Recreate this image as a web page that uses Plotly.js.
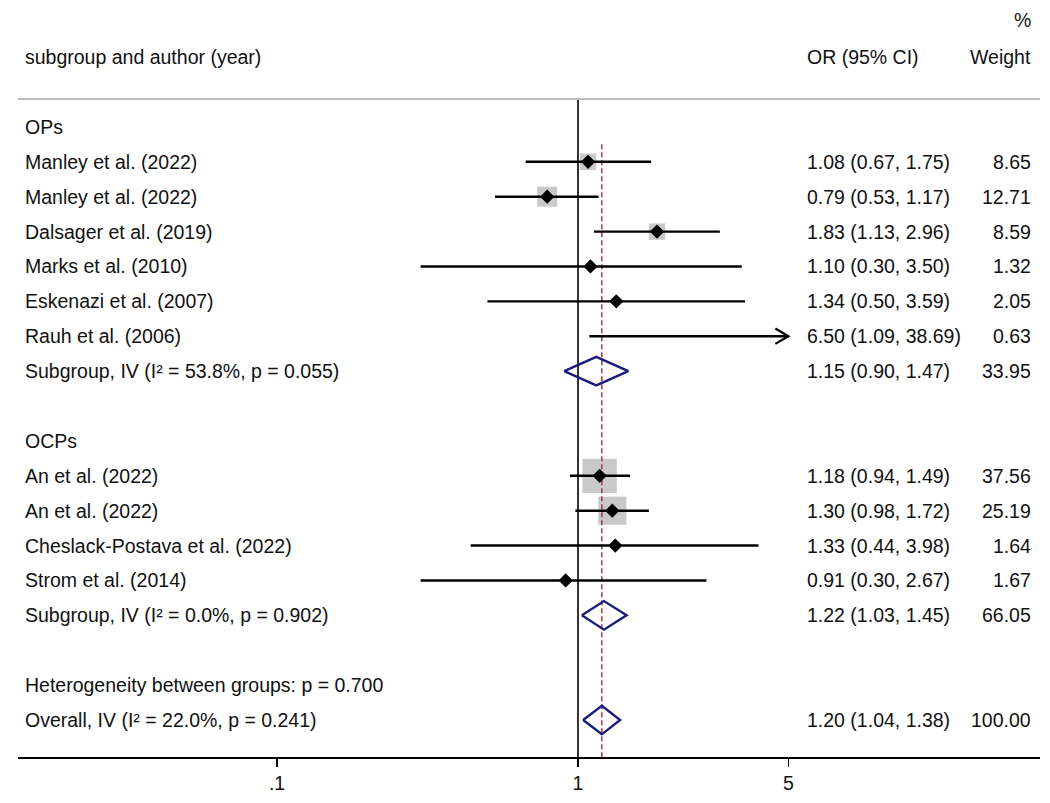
<!DOCTYPE html>
<html>
<head>
<meta charset="utf-8">
<script src="https://cdn.plot.ly/plotly-3.0.1.min.js"></script>
<style>html,body{margin:0;padding:0;background:#fff;}#chart{width:1050px;height:803px;}</style>
</head>
<body>
<div id="chart"></div>
<script>
// ---- data ----
const labels = [
  "OPs",
  "Manley et al. (2022)",
  "Manley et al. (2022)",
  "Dalsager et al. (2019)",
  "Marks et al. (2010)",
  "Eskenazi et al. (2007)",
  "Rauh et al. (2006)",
  "Subgroup, IV (I\u00B2 = 53.8%, p = 0.055)",
  "",
  "OCPs",
  "An et al. (2022)",
  "An et al. (2022)",
  "Cheslack-Postava et al. (2022)",
  "Strom et al. (2014)",
  "Subgroup, IV (I\u00B2 = 0.0%, p = 0.902)",
  "",
  "Heterogeneity between groups: p = 0.700",
  "Overall, IV (I\u00B2 = 22.0%, p = 0.241)"
];
const kind = ["group","study","study","study","study","study","study","sub","blank",
              "group","study","study","study","study","sub","blank","het","overall"];
const est    = [null,1.08,0.79,1.83,1.10,1.34,6.50,1.15,null,null,1.18,1.30,1.33,0.91,1.22,null,null,1.20];
const lower  = [null,0.67,0.53,1.13,0.30,0.50,1.09,0.90,null,null,0.94,0.98,0.44,0.30,1.03,null,null,1.04];
const upper  = [null,1.75,1.17,2.96,3.50,3.59,38.69,1.47,null,null,1.49,1.72,3.98,2.67,1.45,null,null,1.38];
const weight = [null,8.65,12.71,8.59,1.32,2.05,0.63,33.95,null,null,37.56,25.19,1.64,1.67,66.05,null,null,100.00];
const tickVals = [0.1, 1, 5];
const tickText = [".1", "1", "5"];
const headers = {label: "subgroup and author (year)", or: "OR (95% CI)", pct: "%", weight: "Weight"};

// ---- geometry (styling) ----
const W = 1050, H = 803;
const mL = 18, mR = 10, mT = 99, mB = 46;
const plotW = W - mL - mR, plotH = H - mT - mB;
const decadePx = 301, onePx = 578;
const xRange = [(mL - onePx) / decadePx, (W - mR - onePx) / decadePx];
const yTop = 0.2, yBot = 19.06;
const px2paperX = p => (p - mL) / plotW;
const px2paperY = p => (H - mB - p) / plotH;
const clip = tickVals[tickVals.length - 1];
const fontFam = "Liberation Sans, Arial, sans-serif";
const fontSize = 19.5;
const txtCol = "#111";

const rowY = labels.map((_, i) => i + 1);
const studyIdx = kind.map((k, i) => k === "study" ? i : -1).filter(i => i >= 0);
const poolIdx = kind.map((k, i) => (k === "sub" || k === "overall") ? i : -1).filter(i => i >= 0);
const overallIdx = kind.indexOf("overall");

const traces = [];
// weight squares
const sqIdx = studyIdx.filter(i => est[i] <= clip);
traces.push({
  type: "scatter", mode: "markers",
  x: sqIdx.map(i => est[i]), y: sqIdx.map(i => rowY[i]),
  marker: {symbol: "square", color: "#b2b2b2", size: sqIdx.map(i => 5.6 * Math.sqrt(weight[i])), line: {width: 0}},
  hoverinfo: "skip", showlegend: false
});
// null line at 1
traces.push({type: "scatter", mode: "lines", x: [1, 1], y: [yTop, yBot],
  line: {color: "#000", width: 1.6}, hoverinfo: "skip", showlegend: false});
// overall dashed line
traces.push({type: "scatter", mode: "lines", x: [est[overallIdx], est[overallIdx]], y: [1.5, yBot],
  line: {color: "#a8414c", width: 1.6, dash: "5px,3px"}, hoverinfo: "skip", showlegend: false});
// CI lines
const ciX = [], ciY = [];
studyIdx.forEach(i => { ciX.push(lower[i], Math.min(upper[i], clip), null); ciY.push(rowY[i], rowY[i], null); });
traces.push({type: "scatter", mode: "lines", x: ciX, y: ciY,
  line: {color: "#000", width: 2.4}, hoverinfo: "skip", showlegend: false});
// arrows for truncated CIs
const arX = [], arY = [];
const back = Math.pow(10, 13 / decadePx);
studyIdx.filter(i => upper[i] > clip).forEach(i => {
  arX.push(clip / back, clip, clip / back, null);
  arY.push(rowY[i] - 0.22, rowY[i], rowY[i] + 0.22, null);
});
traces.push({type: "scatter", mode: "lines", x: arX, y: arY,
  line: {color: "#000", width: 2.2}, hoverinfo: "skip", showlegend: false});
// point estimates
const ptIdx = studyIdx.filter(i => est[i] <= clip);
traces.push({type: "scatter", mode: "markers",
  x: ptIdx.map(i => est[i]), y: ptIdx.map(i => rowY[i]),
  marker: {symbol: "diamond", color: "#000", size: 11, line: {width: 0}},
  hoverinfo: "skip", showlegend: false});
// pooled diamonds
const dX = [], dY = [];
poolIdx.forEach(i => {
  const r = rowY[i];
  dX.push(lower[i], est[i], upper[i], est[i], lower[i], null);
  dY.push(r, r - 0.41, r, r + 0.41, r, null);
});
traces.push({type: "scatter", mode: "lines", x: dX, y: dY,
  line: {color: "#1b1b7a", width: 2.4}, hoverinfo: "skip", showlegend: false});

// annotations
const ann = [];
const mk = (text, x, y, xanchor, yref) => ({text, x, y, xref: "paper", yref: yref || "y",
  xanchor, yanchor: "middle", showarrow: false, borderpad: 0, borderwidth: 0,
  font: {family: fontFam, size: fontSize, color: txtCol}});
labels.forEach((lab, i) => {
  if (!lab) return;
  ann.push(mk(lab, px2paperX(25), rowY[i], "left"));
  if (est[i] !== null) {
    ann.push(mk(est[i].toFixed(2) + " (" + lower[i].toFixed(2) + ", " + upper[i].toFixed(2) + ")", px2paperX(807), rowY[i], "left"));
    ann.push(mk(weight[i].toFixed(2), px2paperX(1031), rowY[i], "right"));
  }
});
ann.push(mk(headers.label, px2paperX(25), px2paperY(57), "left", "paper"));
ann.push(mk(headers.or, px2paperX(807), px2paperY(57), "left", "paper"));
ann.push(mk(headers.pct, px2paperX(1031), px2paperY(20), "right", "paper"));
ann.push(mk(headers.weight, px2paperX(1031), px2paperY(57), "right", "paper"));

const layout = {
  width: W, height: H,
  margin: {l: mL, r: mR, t: mT, b: mB, pad: 0},
  paper_bgcolor: "#fff", plot_bgcolor: "#fff",
  showlegend: false,
  xaxis: {
    type: "log", range: xRange, fixedrange: true,
    tickvals: tickVals, ticktext: tickText,
    ticks: "outside", ticklen: 8, tickwidth: 1.6, tickcolor: "#000",
    tickfont: {family: fontFam, size: fontSize, color: txtCol},
    showgrid: false, zeroline: false,
    showline: true, linecolor: "#000", linewidth: 1.6
  },
  yaxis: {range: [yBot, yTop], visible: false, showgrid: false, zeroline: false, fixedrange: true},
  shapes: [{type: "line", xref: "paper", yref: "paper", x0: 0, x1: 1, y0: 1, y1: 1,
    line: {color: "#bdbdbd", width: 2}}],
  annotations: ann
};
Plotly.newPlot("chart", traces, layout, {displayModeBar: false, staticPlot: true});
</script>
</body>
</html>
